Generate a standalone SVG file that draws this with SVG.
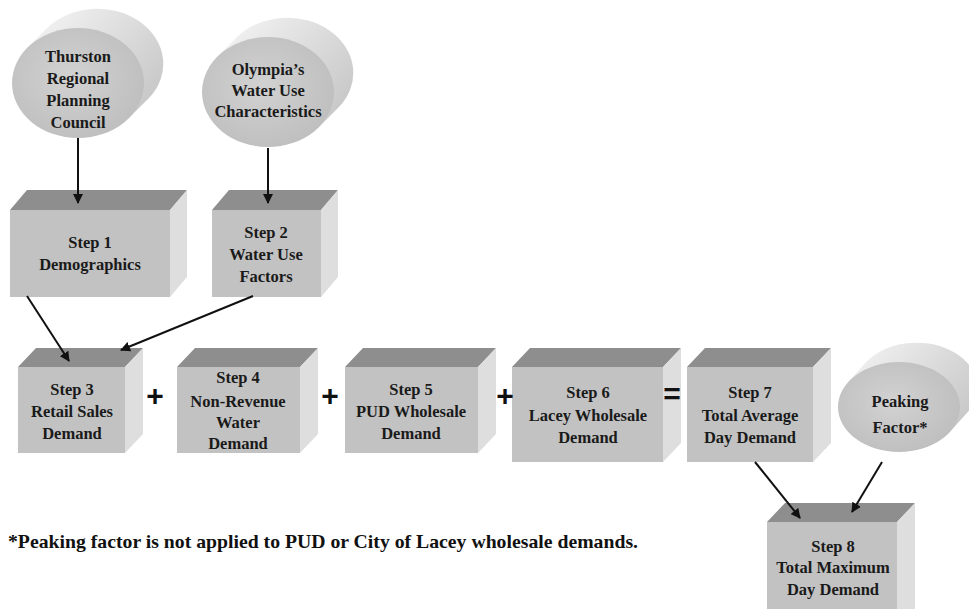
<svg xmlns="http://www.w3.org/2000/svg" width="969" height="609" viewBox="0 0 969 609">
<defs>
<style>
.front{fill:#c2c2c2}
.top{fill:#8e8e8e}
.side{fill:#dedede}
.cylfront{fill:url(#gFront)}
.lbl{font-family:"Liberation Serif","Tinos","Times New Roman","DejaVu Serif",serif;font-weight:bold;font-size:16.5px;fill:#1a1a1a;text-anchor:middle}
.op{font-family:"Liberation Sans",Arial,sans-serif;font-weight:bold;font-size:30px;fill:#111;text-anchor:middle}
.note{font-family:"Liberation Serif","Tinos","Times New Roman","DejaVu Serif",serif;font-weight:bold;font-size:19px;fill:#111}
.conn line{stroke:#111;stroke-width:2;marker-end:url(#ah)}
</style>
<linearGradient id="gSide1" gradientUnits="userSpaceOnUse" x1="40" y1="20" x2="150" y2="120">
<stop offset="0" stop-color="#f2f2f2"/>
<stop offset="1" stop-color="#c4c4c4"/>
</linearGradient>
<linearGradient id="gSide2" gradientUnits="userSpaceOnUse" x1="230" y1="29" x2="340" y2="129">
<stop offset="0" stop-color="#f2f2f2"/>
<stop offset="1" stop-color="#c4c4c4"/>
</linearGradient>
<linearGradient id="gSide3" gradientUnits="userSpaceOnUse" x1="860" y1="345" x2="969" y2="435">
<stop offset="0" stop-color="#f2f2f2"/>
<stop offset="1" stop-color="#c4c4c4"/>
</linearGradient>
<radialGradient id="gFront" cx="0.45" cy="0.45" r="0.6">
<stop offset="0" stop-color="#d2d2d2"/>
<stop offset="1" stop-color="#bebebe"/>
</radialGradient>
<marker id="ah" viewBox="0 0 10 10" refX="9" refY="5" markerWidth="5" markerHeight="5" orient="auto" markerUnits="strokeWidth">
<path d="M0,0 L10,5 L0,10 z" fill="#111"/>
</marker>
</defs>
<rect width="969" height="609" fill="#ffffff"/>

<g id="thurston">
<path fill="url(#gSide1)" d="M27.3,47.8 L47.3,27.8 A66,55 0 0 1 148.7,98.2 L128.7,118.2 A66,55 0 0 1 27.3,47.8 Z"/>
<ellipse class="cylfront" cx="78" cy="83" rx="66" ry="55"/>
<text class="lbl" x="78" y="62">Thurston</text>
<text class="lbl" x="78" y="84">Regional</text>
<text class="lbl" x="78" y="106">Planning</text>
<text class="lbl" x="78" y="128">Council</text>
</g>

<g id="olympia">
<path fill="url(#gSide2)" d="M217.3,56.8 L237.3,36.8 A66,55 0 0 1 338.7,107.2 L318.7,127.2 A66,55 0 0 1 217.3,56.8 Z"/>
<ellipse class="cylfront" cx="268" cy="92" rx="66" ry="55"/>
<text class="lbl" x="268" y="75">Olympia’s</text>
<text class="lbl" x="268" y="96">Water Use</text>
<text class="lbl" x="268" y="117">Characteristics</text>
</g>

<g id="step1">
<polygon class="top" points="10,210 27,190 187,190 170,210"/>
<polygon class="side" points="170,210 187,190 187,277 170,297"/>
<rect class="front" x="10" y="210" width="160" height="87"/>
<text class="lbl" x="90" y="248">Step 1</text>
<text class="lbl" x="90" y="270">Demographics</text>
</g>

<g id="step2">
<polygon class="top" points="212,210 229,190 338,190 321,210"/>
<polygon class="side" points="321,210 338,190 338,277 321,297"/>
<rect class="front" x="212" y="210" width="109" height="87"/>
<text class="lbl" x="266" y="238">Step 2</text>
<text class="lbl" x="266" y="260">Water Use</text>
<text class="lbl" x="266" y="282">Factors</text>
</g>

<g id="step3">
<polygon class="top" points="18,367 36,348 143,348 125,367"/>
<polygon class="side" points="125,367 143,348 143,434 125,453"/>
<rect class="front" x="18" y="367" width="107" height="86"/>
<text class="lbl" x="72" y="395">Step 3</text>
<text class="lbl" x="72" y="417">Retail Sales</text>
<text class="lbl" x="72" y="439">Demand</text>
</g>

<g id="step4">
<polygon class="top" points="177,367 195,348 318,348 300,367"/>
<polygon class="side" points="300,367 318,348 318,434 300,453"/>
<rect class="front" x="177" y="367" width="123" height="86"/>
<text class="lbl" x="238" y="383">Step 4</text>
<text class="lbl" x="238" y="407">Non-Revenue</text>
<text class="lbl" x="238" y="428">Water</text>
<text class="lbl" x="238" y="449">Demand</text>
</g>

<g id="step5">
<polygon class="top" points="345,367 363,348 496,348 478,367"/>
<polygon class="side" points="478,367 496,348 496,434 478,453"/>
<rect class="front" x="345" y="367" width="133" height="86"/>
<text class="lbl" x="411" y="395">Step 5</text>
<text class="lbl" x="411" y="417">PUD Wholesale</text>
<text class="lbl" x="411" y="439">Demand</text>
</g>

<g id="step6">
<polygon class="top" points="512,367 530,348 681,348 663,367"/>
<polygon class="side" points="663,367 681,348 681,443 663,462"/>
<rect class="front" x="512" y="367" width="151" height="95"/>
<text class="lbl" x="588" y="398">Step 6</text>
<text class="lbl" x="588" y="421">Lacey Wholesale</text>
<text class="lbl" x="588" y="443">Demand</text>
</g>

<g id="step7">
<polygon class="top" points="687,367 705,348 831,348 813,367"/>
<polygon class="side" points="813,367 831,348 831,443 813,462"/>
<rect class="front" x="687" y="367" width="126" height="95"/>
<text class="lbl" x="750" y="398">Step 7</text>
<text class="lbl" x="750" y="421">Total Average</text>
<text class="lbl" x="750" y="443">Day Demand</text>
</g>

<g id="peaking">
<path fill="url(#gSide3)" d="M848.2,382.1 L866.2,362.1 A61,45 0 0 1 967.8,411.9 L949.8,431.9 A61,45 0 0 1 848.2,382.1 Z"/>
<ellipse class="cylfront" cx="899" cy="407" rx="61" ry="45"/>
<text class="lbl" x="900" y="407">Peaking</text>
<text class="lbl" x="900" y="433">Factor*</text>
</g>

<g id="step8">
<polygon class="top" points="767,522 785,503 915,503 897,522"/>
<polygon class="side" points="897,522 915,503 915,609 897,609"/>
<rect class="front" x="767" y="522" width="130" height="90"/>
<text class="lbl" x="833" y="552">Step 8</text>
<text class="lbl" x="833" y="573">Total Maximum</text>
<text class="lbl" x="833" y="595">Day Demand</text>
</g>

<g id="operators">
<text class="op" x="155" y="406">+</text>
<text class="op" x="330" y="406">+</text>
<text class="op" x="505" y="406">+</text>
<text class="op" x="672" y="404">=</text>
</g>

<g class="conn" id="connectors">
<line x1="78" y1="138" x2="78" y2="203"/>
<line x1="268" y1="148" x2="268" y2="203"/>
<line x1="27" y1="296" x2="69" y2="361"/>
<line x1="253" y1="296" x2="121" y2="350"/>
<line x1="755" y1="462" x2="800" y2="518"/>
<line x1="882" y1="462" x2="852" y2="512"/>
</g>

<text class="note" x="8" y="548" textLength="630" lengthAdjust="spacingAndGlyphs">*Peaking factor is not applied to PUD or City of Lacey wholesale demands.</text>
</svg>
